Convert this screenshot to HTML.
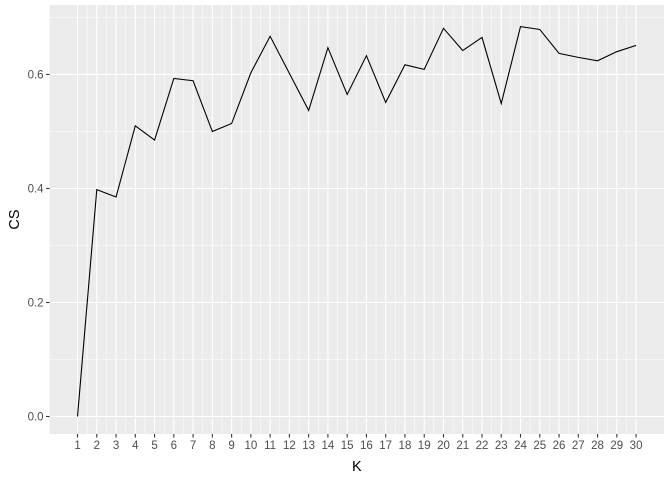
<!DOCTYPE html>
<html><head><meta charset="utf-8"><style>
body{margin:0;background:#fff;}
svg text{font-family:"Liberation Sans",sans-serif;}
</style></head><body>
<svg id="chart" width="672" height="480"></svg>
<script>
const kValues = [1,2,3,4,5,6,7,8,9,10,11,12,13,14,15,16,17,18,19,20,21,22,23,24,25,26,27,28,29,30];
const csValues = [0,0.398,0.385,0.510,0.485,0.593,0.589,0.500,0.514,0.603,0.667,0.602,0.537,0.647,0.565,0.633,0.551,0.617,0.609,0.681,0.642,0.665,0.549,0.684,0.679,0.637,0.630,0.624,0.640,0.651];
const yTicks = [0,0.2,0.4,0.6];
const yTickLabels = ["0.0","0.2","0.4","0.6"];

const svg = document.getElementById('chart');
const NS = 'http://www.w3.org/2000/svg';
const L=49.6, R=664, T=5, B=434;
const xMin=1, xMax=30, xPad=(xMax-xMin)*0.05;
const yLo=-0.0307, yHi=0.7219;
const sx = v => L + (v-(xMin-xPad))/((xMax+xPad)-(xMin-xPad))*(R-L);
const sy = v => B - (v-yLo)/(yHi-yLo)*(B-T);
function mk(tag, attrs){const e=document.createElementNS(NS,tag);for(const k in attrs)e.setAttribute(k,attrs[k]);svg.appendChild(e);return e;}

const bg = mk('rect',{x:L,y:T,width:R-L,height:B-T,fill:'#EBEBEB'});



for(let i=0;i<kValues.length-1;i++){
  const g=mk('line',{x1:sx(kValues[i]+0.5),x2:sx(kValues[i]+0.5),y1:T,y2:B,stroke:'#fff','stroke-width':0.55});
  
  
}
for(let i=0;i<yTicks.length;i++){
  const v=yTicks[i]+0.1;
  if(v>yHi) continue;
  const g=mk('line',{x1:L,x2:R,y1:sy(v),y2:sy(v),stroke:'#fff','stroke-width':0.55});
  
  
}
kValues.forEach(k=>{
  const g=mk('line',{x1:sx(k),x2:sx(k),y1:T,y2:B,stroke:'#fff','stroke-width':1.1});
  
  
  const t=mk('line',{x1:sx(k),x2:sx(k),y1:B,y2:B+3.5,stroke:'#333','stroke-width':1.1});
  
  
  const tx=mk('text',{x:sx(k),y:B+15,'text-anchor':'middle','font-size':11.5,fill:'#4D4D4D'});
  tx.textContent=k;
  
  
});
yTicks.forEach((v,i)=>{
  const g=mk('line',{x1:L,x2:R,y1:sy(v),y2:sy(v),stroke:'#fff','stroke-width':1.1});
  
  
  const t=mk('line',{x1:L-3.5,x2:L,y1:sy(v),y2:sy(v),stroke:'#333','stroke-width':1.1});
  
  
  const tx=mk('text',{x:L-6,y:sy(v)+4,'text-anchor':'end','font-size':11.5,fill:'#4D4D4D'});
  tx.textContent=yTickLabels[i];
  
  
});
const pts=kValues.map((k,i)=>sx(k)+','+sy(csValues[i])).join(' ');
const line=mk('polyline',{points:pts,fill:'none',stroke:'#000','stroke-width':1.1});


const xt=mk('text',{x:(L+R)/2,y:471,'text-anchor':'middle','font-size':14.5,fill:'#000'});
xt.textContent='K';


const yt=mk('text',{x:0,y:0,'text-anchor':'middle','font-size':14.5,fill:'#000',transform:`translate(19,${(T+B)/2}) rotate(-90)`});
yt.textContent='CS';


</script>
</body></html>
